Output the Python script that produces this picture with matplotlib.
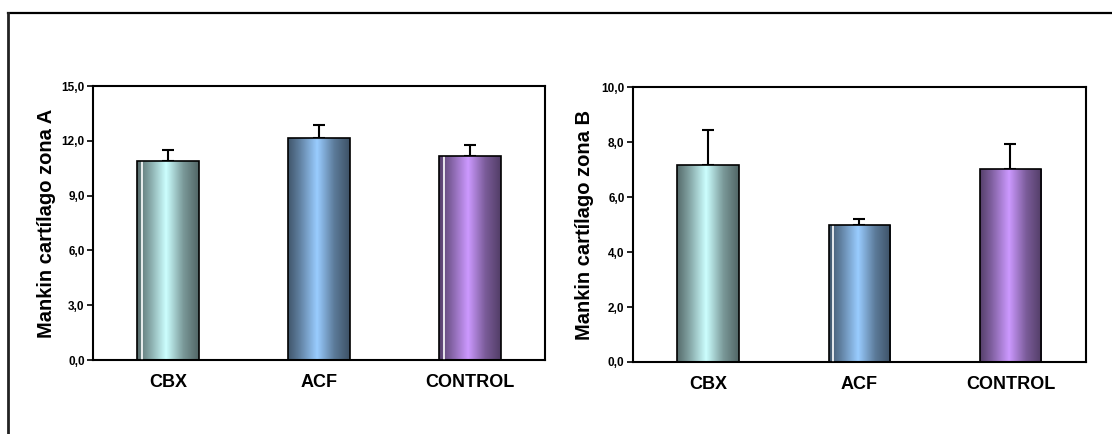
import numpy as np
import matplotlib
matplotlib.use("Agg")
import matplotlib.pyplot as plt
from matplotlib.colors import LinearSegmentedColormap, to_rgb
from matplotlib.lines import Line2D

# data
groups = ["CBX", "ACF", "CONTROL"]
zona_a = [10.9, 12.15, 11.18]
zona_a_err = [0.6, 0.7, 0.6]
zona_b = [7.18, 4.98, 7.02]
zona_b_err = [1.26, 0.22, 0.9]

centre_cols = ["#ccffff", "#99ccff", "#cc99ff"]

plt.rcParams['font.family'] = ['Liberation Sans Narrow', 'Liberation Sans', 'DejaVu Sans']
plt.rcParams['font.weight'] = 'bold'


def shade(col, f):
    r, g, b = to_rgb(col)
    return (r * f, g * f, b * f)


def gradient_bars(ax, vals, errs, white_line):
    x = np.arange(len(vals))
    bars = ax.bar(x, vals, width=0.41, facecolor='none', edgecolor='black',
                  linewidth=1.2, zorder=3)
    ax.errorbar(x, vals, yerr=[np.zeros(len(errs)), errs], fmt='none',
                ecolor='black', elinewidth=1.5, capsize=4, capthick=1.5, zorder=2)
    grad = np.linspace(0, 1, 200).reshape(1, -1)
    for i, b in enumerate(bars):
        c = centre_cols[i]
        cmap = LinearSegmentedColormap.from_list(
            "c%d" % i,
            [(0.0, shade(c, 0.42)), (0.18, shade(c, 0.62)), (0.47, shade(c, 1.0)),
             (0.75, shade(c, 0.6)), (1.0, shade(c, 0.4))])
        x0, y0 = b.get_x(), b.get_y()
        im = ax.imshow(grad, cmap=cmap, aspect='auto', zorder=2.5,
                       extent=[x0, x0 + b.get_width(), y0, y0 + b.get_height()])
        im.set_clip_path(b)
        if white_line[i]:
            ax.plot([x0 + 0.08 * b.get_width()] * 2, [y0, y0 + b.get_height()],
                    color='white', lw=1.2, zorder=2.8)
    ax.set_xlim(-0.5, len(vals) - 0.5)
    ax.set_xticks(x)
    ax.set_xticklabels(groups, fontsize=13, fontweight='bold')
    ax.tick_params(axis='x', length=0, pad=10)
    ax.tick_params(axis='y', length=4, width=1.2, labelsize=8.5, pad=2)
    for s in ax.spines.values():
        s.set_linewidth(1.5)


fig = plt.figure(figsize=(11.12, 4.34), dpi=100)

ax1 = fig.add_axes([0.0836, 0.1705, 0.4065, 0.6313])
gradient_bars(ax1, zona_a, zona_a_err, [True, False, True])
ax1.set_ylim(0, 15)
ax1.set_yticks(np.arange(0, 15.1, 3))
ax1.set_yticklabels([("%.1f" % v).replace('.', ',') for v in np.arange(0, 15.1, 3)],
                    fontweight='bold')
ax1.set_ylabel("Mankin cartílago zona A", fontsize=14.5, fontweight='bold', labelpad=4)

ax2 = fig.add_axes([0.5692, 0.1659, 0.4074, 0.6336])
gradient_bars(ax2, zona_b, zona_b_err, [False, True, False])
ax2.set_ylim(0, 10)
ax2.set_yticks(np.arange(0, 10.1, 2))
ax2.set_yticklabels([("%.1f" % v).replace('.', ',') for v in np.arange(0, 10.1, 2)],
                    fontweight='bold')
ax2.set_ylabel("Mankin cartílago zona B", fontsize=14.5, fontweight='bold', labelpad=5)

# outer frame (top and left only)
fig.add_artist(Line2D([8 / 1112, 1.0], [1 - 13 / 434, 1 - 13 / 434], color='black', lw=1.6,
                      transform=fig.transFigure))
fig.add_artist(Line2D([8 / 1112, 8 / 1112], [0.0, 1 - 13 / 434], color='#222222', lw=2,
                      transform=fig.transFigure))

fig.savefig("out.png", dpi=100)
